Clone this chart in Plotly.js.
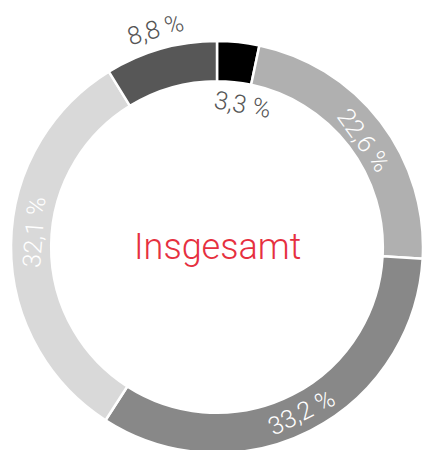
<!DOCTYPE html>
<html>
<head>
<meta charset="utf-8">
<script src="https://cdn.plot.ly/plotly-3.0.1.min.js"></script>
<style>
html,body{margin:0;padding:0;overflow:hidden;background:#fff;width:424px;height:450px;}
#chart{width:424px;height:453px;}
</style>
</head>
<body>
<div id="chart"></div>
<script>
const categories = ["A", "B", "C", "D", "E"];
const values = [3.3, 22.6, 33.2, 32.1, 8.8];
const colors = ["#000000", "#b0b0b0", "#888888", "#d9d9d9", "#575757"];
const centerLabel = "Insgesamt";

const fmt = v => v.toFixed(1).replace('.', ',') + ' %';

const total = values.reduce((a, b) => a + b, 0);
let cum = 0;
const mids = values.map(v => { const m = (cum + v / 2) / total * 360; cum += v; return m; });

const FONT = "Helvetica Neue, Roboto, Liberation Sans, sans-serif";
const annotations = [{
  text: centerLabel, x: 0.5, y: 0.5, xref: 'paper', yref: 'paper', showarrow: false,
  xanchor: 'center', yanchor: 'middle',
  font: {family: FONT, size: 36, color: '#e6303f', weight: 300}
}];
// label placement: radius in paper units (pie radius = 0.5), angle nudge, colour
const place = [
  {r: 0.352, da: 4, color: '#555555'},
  {r: 0.440, da: 1.5, color: '#ffffff'},
  {r: 0.450, da: 0, color: '#ffffff'},
  {r: 0.445, da: 4, color: '#ffffff'},
  {r: 0.548, da: 0, color: '#555555'}
];
values.forEach((v, i) => {
  const p = place[i];
  const ang = mids[i] + p.da;
  const a = ang * Math.PI / 180;
  let ta = ang;
  if (ta > 90 && ta < 270) ta = ta - 180;
  else if (ta >= 270) ta = ta - 360;
  annotations.push({
    text: fmt(v), xref: 'paper', yref: 'paper', showarrow: false,
    xanchor: 'center', yanchor: 'middle',
    x: 0.5 + p.r * Math.sin(a), y: 0.5 + p.r * Math.cos(a),
    textangle: ta,
    font: {family: FONT, size: 25, color: p.color, weight: 300}
  });
});

Plotly.newPlot('chart', [{
  type: 'pie',
  labels: categories,
  values: values,
  textinfo: 'none',
  hole: 0.805,
  sort: false,
  direction: 'clockwise',
  rotation: 0,
  marker: {colors: colors, line: {color: '#ffffff', width: 2.5}},
  showlegend: false,
  hoverinfo: 'none'
}], {
  width: 424, height: 453,
  margin: {l: 11, r: 1, t: 41, b: 0},
  paper_bgcolor: '#ffffff',
  showlegend: false,
  annotations: annotations
}, {staticPlot: true});
</script>
</body>
</html>
